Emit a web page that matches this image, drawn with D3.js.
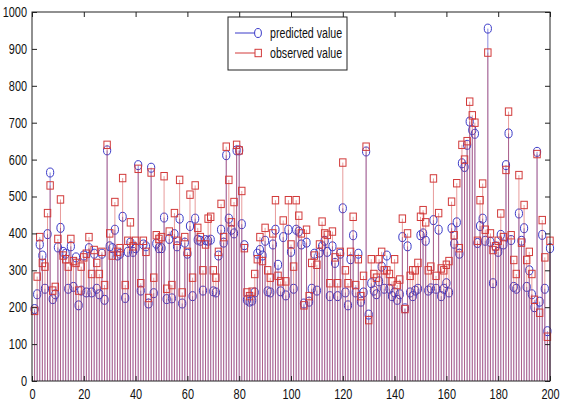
<!DOCTYPE html>
<html><head><meta charset="utf-8">
<script src="https://cdn.jsdelivr.net/npm/d3@7"></script>
<style>
html,body{margin:0;padding:0;background:#fff;}
svg{display:block;}
text{font-family:"Liberation Sans",Arial,sans-serif;}
</style></head>
<body>
<svg id="c" width="564" height="404"></svg>
<script>
// sample index 1..200
const predicted = [
195,235,370,340,250,398,565,222,235,362,
415,350,345,250,365,255,335,205,245,340,
240,360,240,345,250,235,345,220,625,365,
360,410,340,345,445,225,350,375,350,360,
585,245,370,365,210,578,238,372,360,360,
443,222,385,224,398,365,440,210,375,345,
420,230,440,383,380,245,382,380,383,243,
240,340,410,375,612,440,410,400,625,625,
425,368,220,215,218,240,345,355,340,380,
243,240,370,410,315,243,390,232,410,350,
250,410,405,370,210,375,215,250,345,245,
348,365,380,350,230,365,320,230,345,468,
240,205,330,395,240,345,215,240,622,180,
265,245,235,270,310,250,340,250,230,240,
220,235,390,197,365,240,230,245,250,395,
400,380,245,251,436,250,410,230,250,265,
240,414,372,430,345,590,580,640,703,680,
670,374,420,440,380,955,377,265,365,350,
396,370,585,671,382,255,250,454,380,414,
255,300,235,200,621,215,396,250,135,360
];
const observed = [
190,283,390,320,310,455,530,245,255,385,
492,340,330,310,385,325,320,245,310,335,
345,390,290,355,320,290,350,260,640,400,
340,485,350,360,550,260,380,430,365,380,
575,265,380,350,225,565,280,395,385,390,
555,250,405,260,455,380,545,240,390,350,
505,280,530,415,390,300,370,440,445,300,
280,350,480,390,635,545,430,485,640,625,
515,360,240,230,242,290,330,390,325,415,
300,280,400,490,285,270,435,270,490,370,
310,490,448,400,205,410,230,320,340,315,
370,432,400,396,265,405,335,265,350,592,
300,265,350,445,260,330,230,285,635,165,
330,290,280,330,350,300,300,290,270,330,
260,275,440,195,400,285,300,300,320,445,
463,430,300,310,549,285,455,305,300,315,
325,486,395,536,360,640,600,650,757,720,
700,380,490,535,410,890,400,355,365,380,
454,390,572,730,395,328,290,558,375,477,
328,350,290,220,615,185,436,335,120,380
];
const xTicks = [0,20,40,60,80,100,120,140,160,180,200];
const yTicks = [0,100,200,300,400,500,600,700,800,900,1000];
const seriesNames = ["predicted value","observed value"];

const svg = d3.select("#c");
const L=32, R=550, T=12, B=381;
const x = d3.scaleLinear().domain([0,200]).range([L,R]);
const y = d3.scaleLinear().domain([0,1000]).range([B,T]);
const blue="#3a3ac8", red="#d23a3a";

const idx = d3.range(1, predicted.length+1);

function condense(sel, k){
  sel.each(function(){
    const w = this.getComputedTextLength();
    if(w>0){ this.setAttribute("textLength", (w*k).toFixed(1)); this.setAttribute("lengthAdjust","spacingAndGlyphs"); }
  });
}

// stems
const gP = svg.append("g");
gP.selectAll("line").data(idx).join("line")
  .attr("x1",d=>x(d)).attr("x2",d=>x(d))
  .attr("y1",y(0)).attr("y2",d=>y(predicted[d-1]))
  .attr("stroke",blue).attr("stroke-width",1).attr("stroke-opacity",0.6);
gP.selectAll("ellipse").data(idx).join("ellipse")
  .attr("cx",d=>x(d)).attr("cy",d=>y(predicted[d-1]))
  .attr("rx",3.6).attr("ry",4.5)
  .attr("fill","none").attr("stroke",blue).attr("stroke-width",1);

const gO = svg.append("g");
gO.selectAll("line").data(idx).join("line")
  .attr("x1",d=>x(d)).attr("x2",d=>x(d))
  .attr("y1",y(0)).attr("y2",d=>y(observed[d-1]))
  .attr("stroke",red).attr("stroke-width",1).attr("stroke-opacity",0.5);
gO.selectAll("rect").data(idx).join("rect")
  .attr("x",d=>x(d)-3.2).attr("y",d=>y(observed[d-1])-3.7)
  .attr("width",6.4).attr("height",7.4)
  .attr("fill","none").attr("stroke",red).attr("stroke-width",1);

// axes
const fmt = d3.format("d");
const axB = svg.append("g").attr("transform",`translate(0,${B})`)
  .call(d3.axisBottom(x).tickValues(xTicks).tickFormat(fmt).tickSizeInner(-5).tickSizeOuter(0).tickPadding(8));
const axL = svg.append("g").attr("transform",`translate(${L},0)`)
  .call(d3.axisLeft(y).tickValues(yTicks).tickFormat(fmt).tickSizeInner(-5).tickSizeOuter(0).tickPadding(5));
const axT = svg.append("g").attr("transform",`translate(0,${T})`)
  .call(d3.axisTop(x).tickValues(xTicks).tickFormat("").tickSizeInner(-5).tickSizeOuter(0));
const axR = svg.append("g").attr("transform",`translate(${R},0)`)
  .call(d3.axisRight(y).tickValues(yTicks).tickFormat("").tickSizeInner(-5).tickSizeOuter(0));
[axB,axL,axT,axR].forEach(g=>{
  g.select(".domain").remove();
  g.selectAll(".tick line").attr("stroke","#222");
  g.selectAll("text").attr("fill","#111").style("font-size","14px");
});
condense(axB.selectAll("text"), 0.78);
condense(axL.selectAll("text"), 0.78);
svg.append("rect").attr("x",L).attr("y",T).attr("width",R-L).attr("height",B-T)
  .attr("fill","none").attr("stroke","#222").attr("stroke-width",1);

// legend
const lg = svg.append("g");
lg.append("rect").attr("x",228).attr("y",17).attr("width",119).attr("height",53)
  .attr("fill","#fff").attr("stroke","#222").attr("stroke-width",1);
const rows=[{name:seriesNames[0],c:blue,m:"o",yy:33},{name:seriesNames[1],c:red,m:"s",yy:53}];
rows.forEach(r=>{
  lg.append("line").attr("x1",235).attr("x2",256).attr("y1",r.yy).attr("y2",r.yy)
    .attr("stroke",r.c).attr("stroke-width",1);
  if(r.m==="o") lg.append("ellipse").attr("cx",258).attr("cy",r.yy).attr("rx",3.4).attr("ry",4.5)
    .attr("fill","#fff").attr("stroke",r.c);
  else lg.append("rect").attr("x",255).attr("y",r.yy-3.7).attr("width",6.4).attr("height",7.4)
    .attr("fill","#fff").attr("stroke",r.c);
  const t = lg.append("text").attr("x",270).attr("y",r.yy+5).text(r.name)
    .attr("fill","#111").style("font-size","14px");
  condense(t, 0.76);
});
</script>
</body></html>
